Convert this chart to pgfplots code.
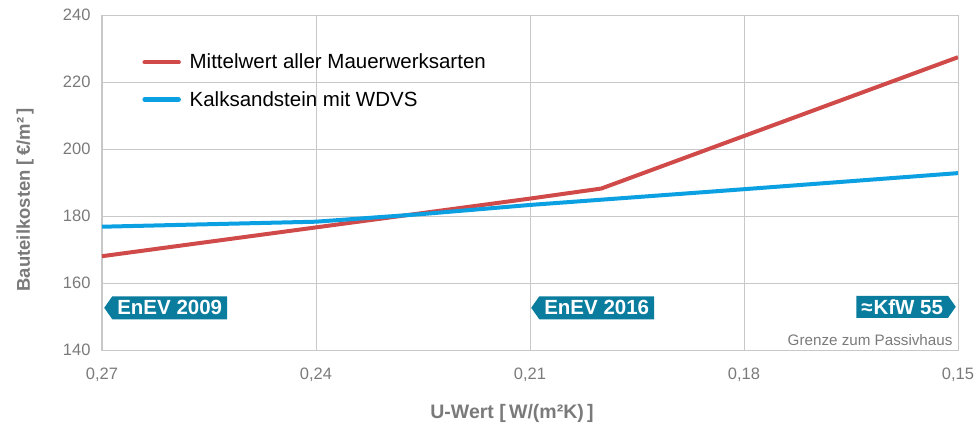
\documentclass[border=0pt]{standalone}
\usepackage{fontspec}
\setmainfont{Liberation Sans}
\usepackage{pgfplots}
\pgfplotsset{compat=1.18}
\usetikzlibrary{shapes.symbols}
\definecolor{redl}{HTML}{D04A4A}
\definecolor{bluel}{HTML}{0AA0E2}
\definecolor{tagc}{HTML}{0A7C9E}
\definecolor{gridc}{HTML}{C8C8C8}
\definecolor{txt}{HTML}{7A7A7A}
\begin{document}
\begin{tikzpicture}
\path[use as bounding box] (-102pt,-82pt) rectangle (874pt,350pt);
\begin{axis}[
  width=856pt, height=335pt, scale only axis,
  xmin=0.15, xmax=0.27, x dir=reverse, ymin=140, ymax=240,
  xtick={0.15,0.18,0.21,0.24,0.27},
  xticklabels={{0,15},{0,18},{0,21},{0,24},{0,27}},
  ytick={140,160,...,240},
  /pgf/number format/assume math mode=true,
  grid=major, major grid style={gridc, line width=0.8pt},
  axis line style={gridc, line width=1pt},
  major tick length=0pt,
  tick label style={txt, font=\fontsize{16.5}{18}\selectfont},
  yticklabel style={xshift=-8pt},
  xticklabel style={yshift=-14pt},
  clip mode=individual,
  legend style={at={(axis description cs:0.047,0.89)}, anchor=north west, draw=none, fill=none,
    font=\fontsize{20.5}{23}\selectfont, row sep=17pt, inner sep=0pt},
  legend cell align=left,
  legend image code/.code={\draw[#1, line width=4.5pt, line cap=round] (0pt,0pt) -- (34pt,0pt); \path (41pt,0pt);},
]
\addplot[redl, line width=4pt, line join=round] coordinates {
  (0.27,168.0) (0.24,176.6) (0.21,185.2) (0.20,188.2) (0.15,227.4)};
\addlegendentry{Mittelwert aller Mauerwerksarten}
\addplot[bluel, line width=4pt, line join=round] coordinates {
  (0.27,176.8) (0.24,178.3) (0.225,180.6) (0.21,183.3) (0.18,188.0) (0.15,192.8)};
\addlegendentry{Kalksandstein mit WDVS}

\node[signal, signal to=west, signal pointer angle=110, fill=tagc, text=white,
  font=\bfseries\fontsize{20.5}{20}\selectfont, inner xsep=5pt, inner ysep=0pt, minimum height=23pt,
  anchor=west] at ([xshift=2pt]axis cs:0.27,152.6) {EnEV 2009};
\node[signal, signal to=west, signal pointer angle=110, fill=tagc, text=white,
  font=\bfseries\fontsize{20.5}{20}\selectfont, inner xsep=5pt, inner ysep=0pt, minimum height=23pt,
  anchor=west] at ([xshift=1pt]axis cs:0.21,152.6) {EnEV 2016};
\node[signal, signal to=east, signal pointer angle=110, fill=tagc, text=white,
  font=\bfseries\fontsize{20.5}{20}\selectfont, inner xsep=5pt, inner ysep=0pt, minimum height=22pt,
  anchor=east] at ([xshift=-2pt]axis cs:0.15,152.9) {≈\kern1ptKfW 55};
\node[anchor=east, text=txt, font=\fontsize{15.2}{16}\selectfont] at ([xshift=-2pt]axis cs:0.15,143.1) {Grenze zum Passivhaus};
\end{axis}
\node[rotate=90, text=txt, font=\bfseries\fontsize{18.5}{18}\selectfont] at (-77pt,150pt) {Bauteilkosten [\,€/m²\,]};
\node[text=txt, font=\bfseries\fontsize{19.5}{18}\selectfont] at (410pt,-63pt) {U-Wert [\,W/(m²K)\,]};
\end{tikzpicture}
\end{document}
